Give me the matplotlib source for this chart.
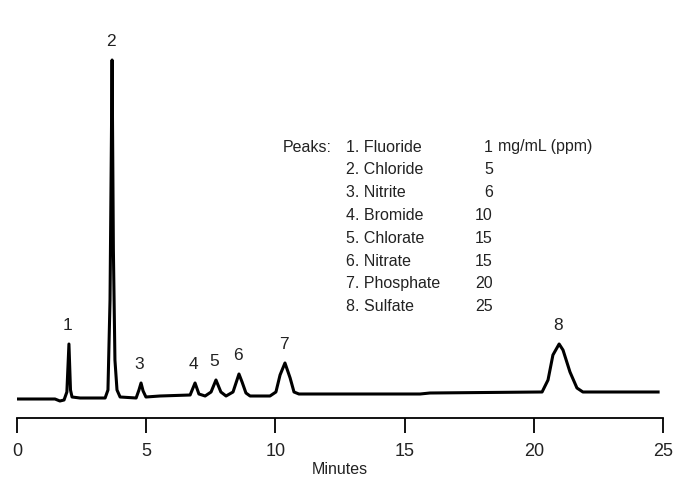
import matplotlib
matplotlib.use("Agg")
import matplotlib.pyplot as plt
import numpy as np

plt.rcParams['font.family'] = ['Liberation Sans', 'DejaVu Sans']

# trace (minutes, detector signal in arbitrary units)
t_min = [0.0, 1.47, 1.66, 1.82, 1.93, 2.01, 2.07, 2.13, 2.44,
         3.41, 3.52, 3.60, 3.68, 3.73, 3.79, 3.87, 3.99,
         4.61, 4.72, 4.80, 4.88, 4.99, 5.53,
         6.70, 6.89, 7.04, 7.28,
         7.51, 7.70, 7.89, 8.09,
         8.36, 8.59, 8.71, 8.86, 9.02, 9.79,
         10.02, 10.18, 10.37, 10.57, 10.72, 10.91,
         15.6, 15.98, 20.24,
         20.32, 20.55, 20.74, 20.98, 21.13, 21.40, 21.67, 21.90, 22.56, 24.81]
signal = [1, 1, -1, 0, 8, 56, 10, 3, 2,
          2, 10, 100, 340, 150, 40, 10, 3,
          2, 10, 17, 9, 3, 4,
          5, 17, 6, 4,
          8, 20, 8, 4,
          8, 26, 18, 7, 4, 4,
          8, 25, 37, 22, 8, 6,
          6, 7, 8,
          8, 20, 45, 56, 50, 28, 12, 8, 8, 8]

# peak table
peak_no = ['1', '2', '3', '4', '5', '6', '7', '8']
peak_time = [2.01, 3.68, 4.80, 6.89, 7.70, 8.59, 10.37, 20.98]
peak_height = [56, 340, 17, 17, 20, 26, 37, 56]
peak_name = ['Fluoride', 'Chloride', 'Nitrite', 'Bromide', 'Chlorate',
             'Nitrate', 'Phosphate', 'Sulfate']
peak_conc = ['1', '5', '6', '10', '15', '15', '20', '25']

W, H = 674, 480
fig = plt.figure(figsize=(W / 100, H / 100), dpi=100)
ax = fig.add_axes([17 / W, (H - 418) / H, 646 / W, 418 / H])

ax.plot(t_min, signal, color='black', lw=2.2, solid_joinstyle='round')
ax.set_xlim(0, 25)
ax.set_ylim(-18, 400)

for lab, pt, ph in zip(peak_no, peak_time, peak_height):
    ax.annotate(lab, (pt, ph), xytext=(-1, 8), textcoords='offset points',
                ha='center', va='bottom', fontsize=12.5, color='#222222')

for s in ['left', 'right', 'top']:
    ax.spines[s].set_visible(False)
ax.spines['bottom'].set_linewidth(1.3)
ax.spines['bottom'].set_bounds(0, 25)
ax.set_yticks([])
ax.set_xticks([0, 5, 10, 15, 20, 25])
ax.tick_params(axis='x', direction='out', length=11, width=1.3, pad=7,
               labelsize=13, labelcolor='#222222')
fig.text(340 / W, 1 - 469 / H, 'Minutes', fontsize=11.5, color='#222222',
         ha='center', va='center')

# peak list
fs = 11.5
row0, dy = 147, 22.8
fig.text(283 / W, 1 - row0 / H, 'Peaks:', fontsize=fs, va='center', color='#222222')
for i, (nm, c) in enumerate(zip(peak_name, peak_conc)):
    yy = 1 - (row0 + i * dy) / H
    fig.text(346 / W, yy, f'{i + 1}. {nm}', fontsize=fs, va='center', color='#222222')
    fig.text(493 / W, yy, c, fontsize=fs, va='center', ha='right', color='#222222')
fig.text(498 / W, 1 - row0 / H, 'mg/mL (ppm)', fontsize=fs, va='center', color='#222222')

fig.savefig('out.png', dpi=100)
